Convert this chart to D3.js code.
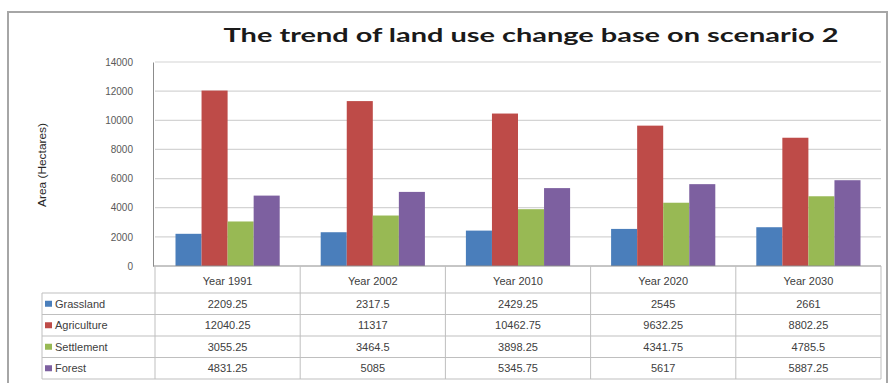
<!DOCTYPE html>
<html>
<head>
<meta charset="utf-8">
<script src="https://cdn.jsdelivr.net/npm/d3@7"></script>
<style>
  html, body { margin: 0; padding: 0; background: #ffffff; }
  svg { display: block; }
</style>
</head>
<body>
<script>
const categories = ["Year 1991", "Year 2002", "Year 2010", "Year 2020", "Year 2030"];
const seriesNames = ["Grassland", "Agriculture", "Settlement", "Forest"];
const grassland = [2209.25, 2317.5, 2429.25, 2545, 2661];
const agriculture = [12040.25, 11317, 10462.75, 9632.25, 8802.25];
const settlement = [3055.25, 3464.5, 3898.25, 4341.75, 4785.5];
const forest = [4831.25, 5085, 5345.75, 5617, 5887.25];
const yTicks = [0, 2000, 4000, 6000, 8000, 10000, 12000, 14000];
const titleText = "The trend of land use change base on scenario 2";
const yTitle = "Area (Hectares)";

const seriesValues = [grassland, agriculture, settlement, forest];
const colors = ["#4a7ebb", "#be4b48", "#98b954", "#7d60a0"];

const W = 890, H = 383;
const svg = d3.select("body").append("svg").attr("width", W).attr("height", H);

// outer frame
svg.append("rect").attr("x", 8).attr("y", 12).attr("width", 879).attr("height", 400)
  .attr("fill", "#fff").attr("stroke", "#a6a6a6").attr("stroke-width", 2);

const plot = { left: 155, right: 881, top: 62, bottom: 266 };

const x = d3.scaleBand().domain(categories).range([plot.left, plot.right]);
const inner = d3.scaleBand().domain(seriesNames).range([20.5, x.bandwidth() - 20.5]);
const y = d3.scaleLinear().domain([0, 14000]).range([plot.bottom, plot.top]);

// title
svg.append("text").attr("x", 531).attr("y", 42).attr("text-anchor", "middle")
  .attr("font-family", "Lato, 'Open Sans', sans-serif").attr("font-weight", "bold")
  .attr("font-size", 19).attr("fill", "#1a1a1a")
  .attr("textLength", 615).attr("lengthAdjust", "spacingAndGlyphs")
  .text(titleText);

// gridlines
svg.append("g").selectAll("line").data(yTicks.filter(t => t > 0)).join("line")
  .attr("x1", plot.left).attr("x2", plot.right)
  .attr("y1", d => y(d)).attr("y2", d => y(d))
  .attr("stroke", "#d4d4d4").attr("stroke-width", 1.2);

// y axis
const yAxis = d3.axisLeft(y).tickValues(yTicks).tickSize(0).tickPadding(20).tickFormat(d3.format("d"));
const yg = svg.append("g").attr("transform", `translate(${plot.left - 2},0)`).call(yAxis);
yg.select(".domain").attr("stroke", "#8c8c8c");
yg.selectAll("text").attr("font-family", "'Liberation Sans', Arial, sans-serif")
  .attr("font-size", 10).attr("fill", "#595959");

// y title
svg.append("text").attr("transform", "translate(46,165) rotate(-90)")
  .attr("text-anchor", "middle").attr("font-family", "'Liberation Sans Narrow', 'Liberation Sans', sans-serif")
  .attr("font-size", 10).attr("fill", "#262626")
  .attr("textLength", 84).attr("lengthAdjust", "spacingAndGlyphs")
  .text(yTitle);

// bars
const groups = svg.append("g").selectAll("g").data(categories).join("g")
  .attr("transform", d => `translate(${x(d)},0)`);
groups.selectAll("rect").data((c, i) => seriesNames.map((s, j) => ({ s, j, v: seriesValues[j][i] })))
  .join("rect")
  .attr("x", d => inner(d.s)).attr("width", inner.bandwidth())
  .attr("y", d => y(d.v)).attr("height", d => y(0) - y(d.v))
  .attr("fill", d => colors[d.j]);

// x axis line
svg.append("line").attr("x1", plot.left - 2).attr("x2", plot.right)
  .attr("y1", plot.bottom).attr("y2", plot.bottom).attr("stroke", "#8c8c8c");

// data table
const rowTop = 293, rowH = 21.5, legendLeft = 42;
const tableColor = "#bfbfbf";
const t = svg.append("g");
for (let r = 0; r <= seriesNames.length; r++) {
  t.append("line").attr("x1", legendLeft).attr("x2", plot.right)
    .attr("y1", rowTop + r * rowH).attr("y2", rowTop + r * rowH)
    .attr("stroke", tableColor);
}
t.append("line").attr("x1", legendLeft).attr("x2", legendLeft)
  .attr("y1", rowTop).attr("y2", rowTop + 4 * rowH).attr("stroke", tableColor);
const bounds = categories.map(c => x(c)).concat([plot.right]);
bounds.forEach(b => {
  t.append("line").attr("x1", b).attr("x2", b)
    .attr("y1", plot.bottom).attr("y2", rowTop + 4 * rowH)
    .attr("stroke", tableColor);
});
t.selectAll("text.hdr").data(categories).join("text").attr("class", "hdr")
  .attr("x", d => x(d) + x.bandwidth() / 2).attr("y", 285)
  .attr("text-anchor", "middle").attr("font-family", "'Liberation Sans', Arial, sans-serif")
  .attr("font-size", 11).attr("fill", "#404040").text(d => d);
seriesNames.forEach((s, j) => {
  const cy = rowTop + j * rowH + rowH / 2;
  t.append("rect").attr("x", 45).attr("y", cy - 3).attr("width", 7).attr("height", 6)
    .attr("fill", colors[j]);
  t.append("text").attr("x", 55).attr("y", cy + 4)
    .attr("font-family", "'Liberation Sans', Arial, sans-serif").attr("font-size", 11)
    .attr("fill", "#404040").text(s);
  categories.forEach((c, i) => {
    t.append("text").attr("x", x(c) + x.bandwidth() / 2).attr("y", cy + 4)
      .attr("text-anchor", "middle").attr("font-family", "'Liberation Sans', Arial, sans-serif")
      .attr("font-size", 11).attr("fill", "#404040").text(String(seriesValues[j][i]));
  });
});
</script>
</body>
</html>
